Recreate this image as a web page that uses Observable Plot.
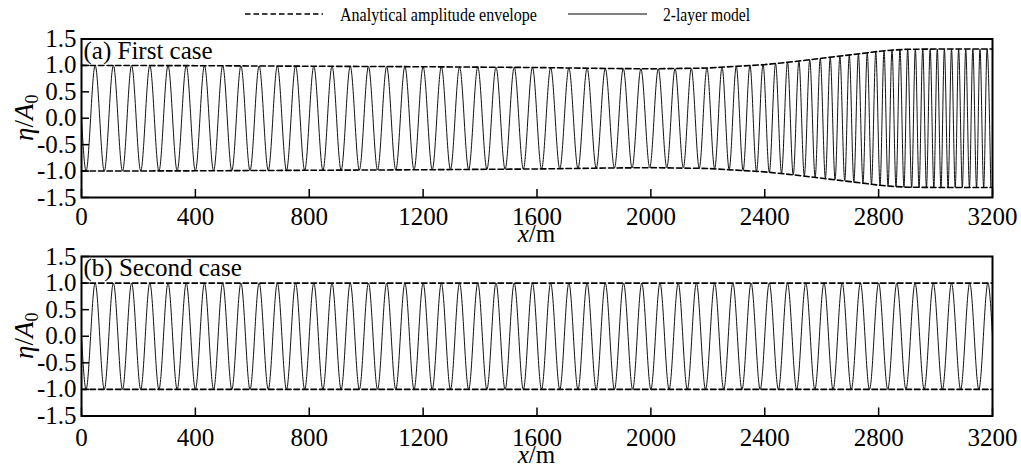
<!DOCTYPE html>
<html><head><meta charset="utf-8">
<script src="https://cdn.jsdelivr.net/npm/d3@7"></script>
<script src="https://cdn.jsdelivr.net/npm/@observablehq/plot@0.6"></script>
<style>
body{margin:0;background:#fff;}
#chart{position:relative;width:1021px;height:467px;overflow:hidden;}
#chart svg{position:absolute;left:0;}
</style></head><body><div id="chart"></div>
<script>
// ---------- data ----------
const xTicks = [0, 400, 800, 1200, 1600, 2000, 2400, 2800, 3200];
const yTicks = [-1.5, -1.0, -0.5, 0.0, 0.5, 1.0, 1.5];
const legendLabels = ["Analytical amplitude envelope", "2-layer model"];
const panelTags = ["(a) First case", "(b) Second case"];

// (a) analytical amplitude envelope
const envTopX = [0, 400, 800, 1200, 1600, 1800, 2000, 2200, 2400, 2500, 2600, 2700, 2800, 2850, 2900, 3000, 3100, 3200];
const envTopA = [1.0, 0.995, 0.985, 0.975, 0.96, 0.945, 0.935, 0.95, 1.015, 1.07, 1.135, 1.2, 1.265, 1.29, 1.305, 1.31, 1.31, 1.31];
// (a) 2-layer model: crests [x, eta] and troughs [x, |eta|]
const topCrests = [[48,1],[112,1],[176,1],[240,1],[304,1],[368,.995],[432,.995],[496,.995],[560,.99],[624,.99],
  [688,.99],[752,.99],[816,.985],[880,.985],[944,.985],[1008,.98],[1072,.98],[1136,.98],[1200,.975],[1264,.975],
  [1328,.97],[1392,.97],[1456,.965],[1520,.965],[1584,.96],[1648,.955],[1712,.95],[1776,.945],[1840,.94],[1903,.94],
  [1965,.935],[2026,.935],[2085,.935],[2142,.94],[2197,.95],[2250,.965],[2300,.98],[2348,1.0],[2394,1.015],[2438,1.035],
  [2480,1.06],[2520,1.08],[2558,1.105],[2595,1.125],[2630,1.145],[2664,1.17],[2697,1.19],[2729,1.21],[2760,1.235],[2790,1.255],
  [2819,1.275],[2847,1.29],[2875,1.3],[2902,1.305],[2929,1.31],[2955,1.31],[2981,1.31],[3006,1.31],[3031,1.31],[3056,1.31],
  [3081,1.31],[3106,1.31],[3131,1.31],[3156,1.31],[3181,1.31]];
const topTroughs = [[16,1],[80,1],[144,1],[208,1],[272,1],[336,.995],[400,.995],[464,.995],[528,.99],[592,.99],
  [656,.99],[720,.99],[784,.985],[848,.985],[912,.985],[976,.98],[1040,.98],[1104,.98],[1168,.975],[1232,.975],
  [1296,.97],[1360,.97],[1424,.965],[1488,.965],[1552,.96],[1616,.96],[1680,.955],[1744,.95],[1808,.945],[1872,.94],
  [1934,.94],[1996,.935],[2056,.935],[2114,.935],[2170,.945],[2224,.955],[2275,.97],[2324,.99],[2371,1.005],[2416,1.025],
  [2459,1.045],[2500,1.07],[2539,1.09],[2577,1.115],[2613,1.135],[2647,1.155],[2681,1.18],[2713,1.2],[2745,1.22],[2775,1.245],
  [2805,1.265],[2833,1.285],[2861,1.295],[2889,1.305],[2916,1.31],[2942,1.31],[2968,1.31],[2994,1.31],[3019,1.31],[3044,1.31],
  [3069,1.31],[3094,1.31],[3119,1.31],[3144,1.31],[3169,1.31],[3194,1.31]];
const topStart = [[0, 0]];

// (b) envelope and model
const envBotX = [0, 3200];
const envBotA = [1.0, 1.0];
const botCrestX = [48,112,176,240,304,368,432,496,560,624,688,752,816,880,944,1008,1072,1136,1200,1264,1328,1392,1456,1520,1584,
  1648,1712,1776,1840,1904,1968,2032,2096,2160,2224,2288,2352,2416,2480,2544,2608,2672,2736,2800,2864,2928,2992,3056,3120,3184];
const botTroughX = [16,80,144,208,272,336,400,464,528,592,656,720,784,848,912,976,1040,1104,1168,1232,1296,1360,1424,1488,1552,
  1616,1680,1744,1808,1872,1936,2000,2064,2128,2192,2256,2320,2384,2448,2512,2576,2640,2704,2768,2832,2896,2960,3024,3088,3152];
const botCrestA = 1.0;
const botEnds = [[0, 0], [3200, 0]];

// ---------- build ----------
const FONT = "Liberation Serif, Times New Roman, serif";
const W = 1021, ML = 81, MR = 29;

function waveFrom(crests, troughs, ends) {
  const pts = [];
  crests.forEach(([x, a]) => pts.push({x, y: a}));
  troughs.forEach(([x, a]) => pts.push({x, y: -a}));
  ends.forEach(([x, y]) => pts.push({x, y}));
  return pts.sort((p, q) => p.x - q.x);
}
function envFrom(xs, as, s) { return xs.map((x, i) => ({x, y: s * as[i]})); }

function panel({H, mt, mb, env, wave, tag, xPad}) {
  const innerH = H - mt - mb, innerW = W - ML - MR;
  return Plot.plot({
    width: W, height: H, marginLeft: ML, marginRight: MR, marginTop: mt, marginBottom: mb,
    style: {fontFamily: FONT, fontSize: "25px", background: "transparent", color: "#000", overflow: "visible"},
    x: {domain: [0, 3200]},
    y: {domain: [-1.5, 1.5]},
    marks: [
      Plot.line(wave, {x: "x", y: "y", curve: "monotone-x", stroke: "#111", strokeWidth: 1}),
      Plot.line(env[0], {x: "x", y: "y", stroke: "#000", strokeWidth: 1.6, strokeDasharray: "5.5,3"}),
      Plot.line(env[1], {x: "x", y: "y", stroke: "#000", strokeWidth: 1.6, strokeDasharray: "5.5,3"}),
      Plot.tickX(xTicks, {x: d => d, insetTop: innerH - 8, stroke: "#000", strokeWidth: 1.5}),
      Plot.tickY(yTicks, {y: d => d, insetRight: innerW - 8, stroke: "#000", strokeWidth: 1.5}),
      Plot.axisX(xTicks, {tickSize: 0, tickPadding: xPad, label: null, fontSize: 25, tickFormat: d => String(d)}),
      Plot.axisY(yTicks, {tickSize: 0, tickPadding: 5, label: null, fontSize: 25, tickFormat: d => d.toFixed(1)}),
      Plot.frame({stroke: "#000", strokeWidth: 2}),
      Plot.text([tag], {text: d => d, frameAnchor: "top-left", dx: 2, dy: 2, fontSize: 25, textAnchor: "start", lineAnchor: "top"})
    ]
  });
}

const chart = document.getElementById("chart");

const topWave = waveFrom(topCrests, topTroughs, topStart);
const topPlot = panel({H: 240, mt: 38.5, mb: 43, xPad: 10,
  env: [envFrom(envTopX, envTopA, 1), envFrom(envTopX, envTopA, -1)], wave: topWave, tag: panelTags[0]});
topPlot.style.top = "0px";
chart.appendChild(topPlot);

const botWave = waveFrom(botCrestX.map(x => [x, botCrestA]), botTroughX.map(x => [x, botCrestA]), botEnds);
const botPlot = panel({H: 227, mt: 16, mb: 51.5, xPad: 12.5,
  env: [envFrom(envBotX, envBotA, 1), envFrom(envBotX, envBotA, -1)], wave: botWave, tag: panelTags[1]});
botPlot.style.top = "240px";
chart.appendChild(botPlot);

// axis titles
function addTitles(svg, frameTop, frameBottom, xTitleY) {
  const s = d3.select(svg);
  const cx = (ML + (W - MR)) / 2;
  const t = s.append("text").attr("x", cx).attr("y", xTitleY).attr("text-anchor", "middle")
    .attr("font-family", FONT).attr("font-size", 25).attr("fill", "#000");
  t.append("tspan").attr("font-style", "italic").text("x");
  t.append("tspan").text("/m");
  const cy = (frameTop + frameBottom) / 2;
  const yt = s.append("text").attr("transform", `translate(33,${cy}) rotate(-90)`).attr("text-anchor", "middle")
    .attr("font-family", FONT).attr("font-size", 27).attr("fill", "#000");
  yt.append("tspan").attr("font-style", "italic").text("η");
  yt.append("tspan").text("/");
  yt.append("tspan").attr("font-style", "italic").text("A");
  yt.append("tspan").attr("font-size", 18).attr("dy", 5).text("0");
}
addTitles(topPlot, 38.5, 197, 242);
addTitles(botPlot, 16, 175.5, 223);

// legend
const lg = d3.select(topPlot).append("g").attr("font-family", FONT).attr("fill", "#000").attr("text-anchor", "start");
lg.append("line").attr("x1", 245).attr("x2", 323).attr("y1", 14).attr("y2", 14)
  .attr("stroke", "#000").attr("stroke-width", 1.4).attr("stroke-dasharray", "5.5,3");
lg.append("text").attr("x", 340).attr("y", 21).attr("font-size", 19).attr("text-anchor", "start")
  .attr("textLength", 197).attr("lengthAdjust", "spacingAndGlyphs").text(legendLabels[0]);
lg.append("line").attr("x1", 568).attr("x2", 647).attr("y1", 14).attr("y2", 14)
  .attr("stroke", "#000").attr("stroke-width", 1);
lg.append("text").attr("x", 663).attr("y", 21).attr("font-size", 19).attr("text-anchor", "start")
  .attr("textLength", 87).attr("lengthAdjust", "spacingAndGlyphs").text(legendLabels[1]);
</script>
</body></html>
